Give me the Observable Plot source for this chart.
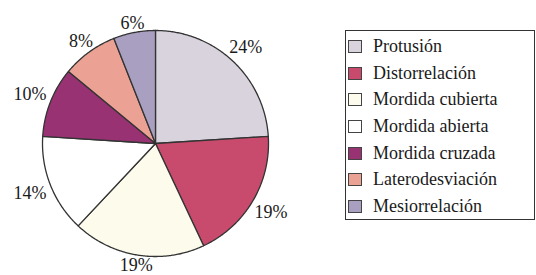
<!DOCTYPE html>
<html><head><meta charset="utf-8">
<script src="https://cdn.jsdelivr.net/npm/d3@7"></script>
<script src="https://cdn.jsdelivr.net/npm/@observablehq/plot@0.6"></script>
<style>
html,body{margin:0;padding:0;background:#fff;}
#wrap{position:relative;width:536px;height:275px;overflow:hidden;}
#legend{position:absolute;left:345px;top:30px;width:190px;height:190px;border:1.3px solid #333;box-sizing:border-box;padding-top:2px;font-family:"Liberation Serif";font-size:18px;color:#1a1a1a;}
.item{display:flex;align-items:center;height:26.7px;}
.sw{width:14px;height:13px;border:1.2px solid #444;margin-left:2px;margin-right:11px;box-sizing:border-box;flex:none;}
</style></head>
<body><div id="wrap"><div id="chart"></div><div id="legend"></div></div>
<script>
const categories = ["Protusión","Distorrelación","Mordida cubierta","Mordida abierta","Mordida cruzada","Laterodesviación","Mesiorrelación"];
const values = [24,19,19,14,10,8,6];
const labels = ["24%","19%","19%","14%","10%","8%","6%"];
const colors = ["#d9d3de","#c84b6d","#fdfbec","#ffffff","#983272","#eba193","#a99fc0"];

const R = 113; // pie radius in pixels
const arcs = d3.pie().sort(null)(values);
const pts = [];
arcs.forEach((a, i) => {
  const name = categories[i];
  pts.push({name, x: 0, y: 0});
  const n = Math.max(2, Math.ceil((a.endAngle - a.startAngle) / 0.01));
  for (let k = 0; k <= n; k++) {
    const t = a.startAngle + (a.endAngle - a.startAngle) * k / n;
    pts.push({name, x: Math.sin(t), y: Math.cos(t)});
  }
  pts.push({name, x: 0, y: 0});
});
const labelData = arcs.map((a, i) => {
  const t = (a.startAngle + a.endAngle) / 2;
  const s = Math.sin(t), c = Math.cos(t);
  const ext = 2 + Math.abs(s) * labels[i].length * 6.5 + Math.abs(c) * 5;
  const r = 1 + ext / R;
  return {label: labels[i], x: r * s, y: r * c};
});

const chart = Plot.plot({
  width: 340, height: 275,
  margin: 0,
  x: {domain: [-1, 1], range: [155 - R, 155 + R], axis: null},
  y: {domain: [-1, 1], range: [143 + R, 143 - R], axis: null},
  color: {domain: categories, range: colors},
  style: {background: "transparent"},
  marks: [
    Plot.line(pts, {x: "x", y: "y", z: "name", fill: "name", stroke: "#333", strokeWidth: 1.3, strokeLinejoin: "round"}),
    Plot.text(labelData, {x: "x", y: "y", text: "label", fontSize: 18, fontFamily: "Liberation Serif", fill: "#1a1a1a"})
  ]
});
document.getElementById("chart").appendChild(chart);

const lg = document.getElementById("legend");
categories.forEach((c, i) => {
  const it = document.createElement("div");
  it.className = "item";
  const sw = document.createElement("div");
  sw.className = "sw";
  sw.style.background = colors[i];
  const tx = document.createElement("span");
  tx.textContent = c;
  it.appendChild(sw); it.appendChild(tx);
  lg.appendChild(it);
});
</script></body></html>
